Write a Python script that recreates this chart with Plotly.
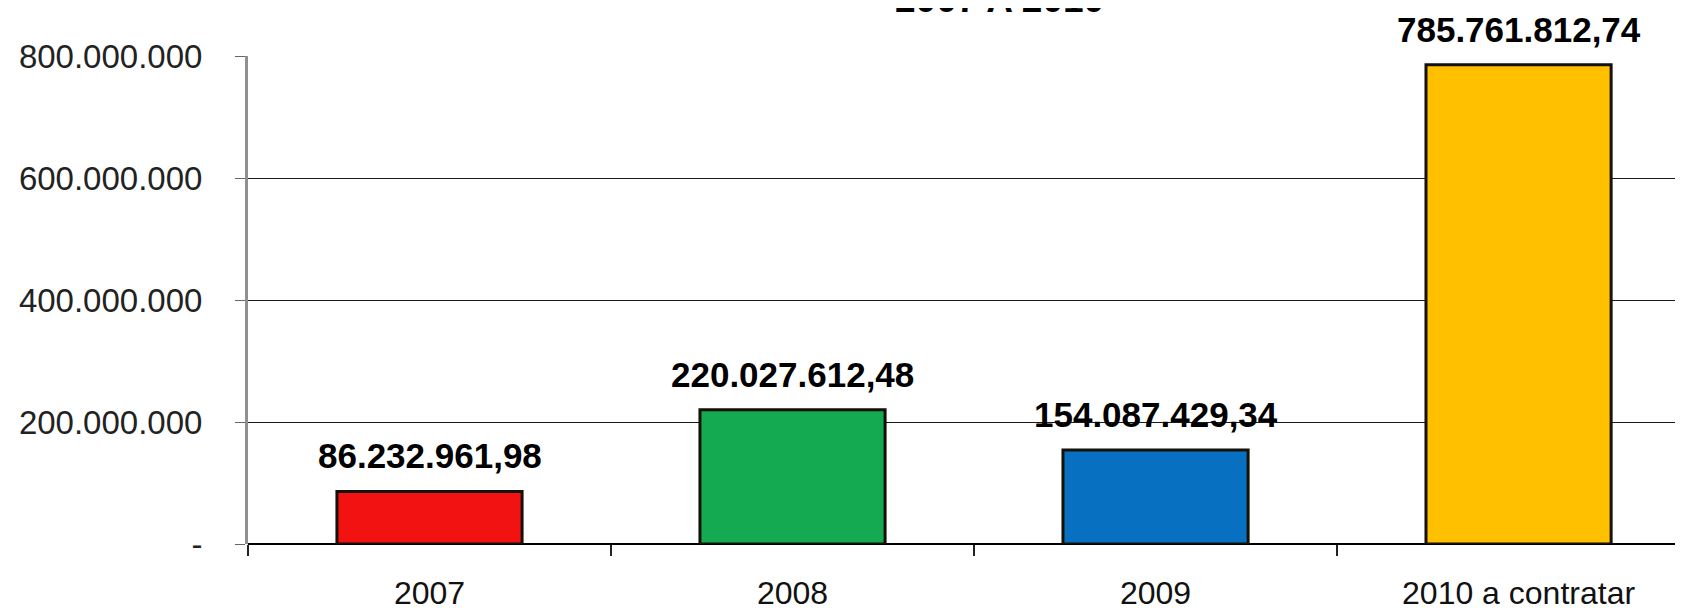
import plotly.graph_objects as go

categories = ["2007", "2008", "2009", "2010 a contratar"]
values = [86232961.98, 220027612.48, 154087429.34, 785761812.74]
value_labels = ["86.232.961,98", "220.027.612,48", "154.087.429,34", "785.761.812,74"]
bar_colors = ["#f21212", "#14aa52", "#0870c0", "#ffc000"]
y_tickvals = [0, 200000000, 400000000, 600000000, 800000000]
y_ticktext = ["-", "200.000.000", "400.000.000", "600.000.000", "800.000.000"]
title_text = "2007 A 2010"

FONT = "Liberation Sans, Arial, sans-serif"

fig = go.Figure()
fig.add_trace(go.Bar(
    x=categories, y=values,
    width=0.51,
    marker=dict(color=bar_colors, line=dict(color="#151008", width=3)),
    hoverinfo="skip",
))

for i, (v, t) in enumerate(zip(values, value_labels)):
    fig.add_annotation(
        x=i, xref="x", y=v, yref="y", text="<b>" + t + "</b>", showarrow=False,
        yanchor="bottom", yshift=14,
        font=dict(family=FONT, size=35, color="#000000"),
    )

fig.add_annotation(
    x=0.524, xref="paper", y=1, yref="paper", yanchor="bottom", yshift=34,
    text="<b>" + title_text + "</b>", showarrow=False,
    font=dict(family=FONT, size=37, color="#000000"),
)

fig.update_layout(
    width=1675, height=602,
    margin=dict(l=240, r=0, t=48, b=66, autoexpand=False),
    plot_bgcolor="white", paper_bgcolor="white",
    showlegend=False,
    xaxis=dict(
        type="category",
        range=[-0.5, 3.453],
        showgrid=False,
        tickson="boundaries", ticks="outside", ticklen=11, tickwidth=1.5, tickcolor="#222222",
        showline=False, zeroline=False,
        ticklabelstandoff=27,
        tickfont=dict(family=FONT, size=32, color="#111111"),
    ),
    yaxis=dict(
        range=[0, 800000000],
        tickvals=y_tickvals, ticktext=y_ticktext,
        showgrid=True, gridcolor="#1a1a1a", gridwidth=1.3,
        zeroline=True, zerolinecolor="#000000", zerolinewidth=1.6,
        showline=True, linecolor="#909090", linewidth=3,
        ticks="outside", ticklen=10, tickcolor="#666666",
        ticklabelstandoff=26,
        tickfont=dict(family=FONT, size=33, color="#222222"),
    ),
)

fig.write_html("out.html")
